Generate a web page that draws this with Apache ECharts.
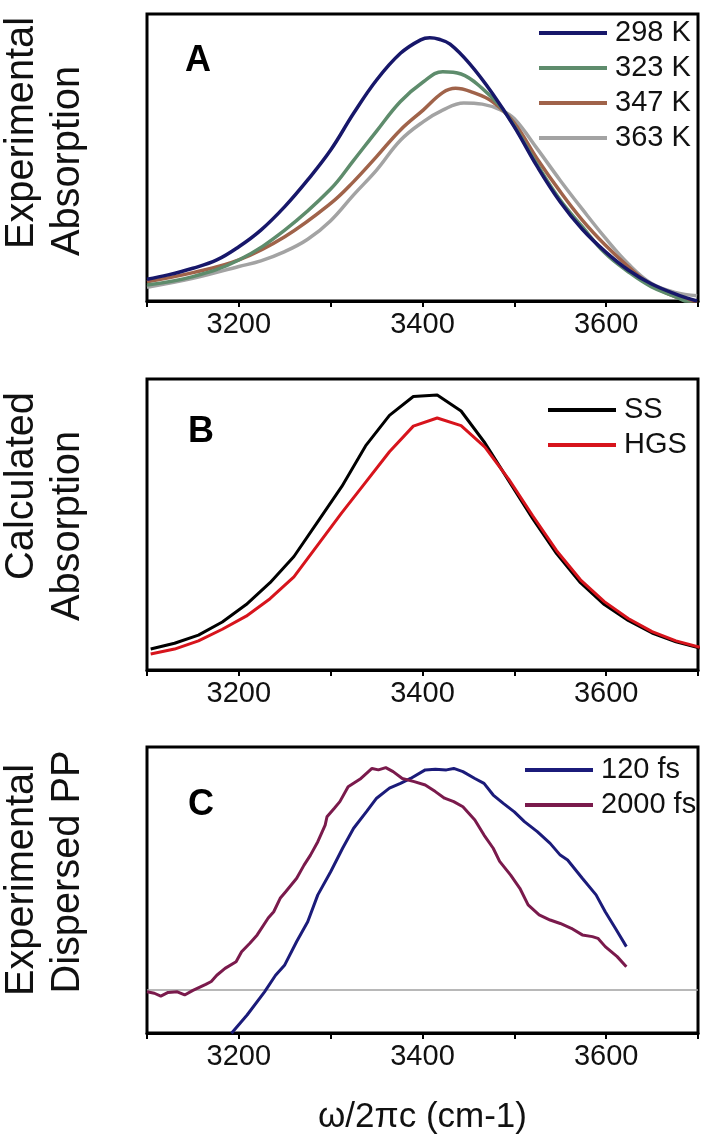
<!DOCTYPE html>
<html>
<head>
<meta charset="utf-8">
<script src="https://cdn.jsdelivr.net/npm/echarts@6/dist/echarts.min.js"></script>
<style>
html,body{margin:0;padding:0;background:#fff;}
#chart{width:701px;height:1140px;}
</style>
</head>
<body>
<div id="chart"></div>
<script>
// ---- Panel A: experimental absorption ----
const xA = [3100,3123,3150,3176,3200,3224,3250,3275,3300,3325,3350,3376,3398,3408,3418,3430,3451,3476,3500,3525,3550,3574,3599,3624,3649,3675,3699];
const a298 = [0.076,0.091,0.114,0.143,0.189,0.247,0.329,0.422,0.526,0.654,0.770,0.863,0.910,0.917,0.912,0.895,0.828,0.724,0.607,0.468,0.345,0.250,0.172,0.108,0.060,0.025,0.0];
const a323x = [3100,3150,3200,3250,3300,3325,3350,3376,3401,3422,3442,3465,3485,3500,3525,3550,3574,3599,3624,3649,3675,3699];
const a323 = [0.056,0.085,0.143,0.247,0.390,0.490,0.592,0.695,0.764,0.799,0.791,0.741,0.677,0.610,0.475,0.352,0.259,0.166,0.102,0.050,0.015,-0.02];
const a347x = [3100,3150,3200,3250,3300,3325,3350,3376,3401,3422,3436,3453,3476,3500,3525,3550,3574,3599,3624,3649,3675,3699];
const a347 = [0.067,0.099,0.143,0.224,0.340,0.416,0.503,0.596,0.666,0.726,0.741,0.729,0.695,0.620,0.495,0.381,0.282,0.195,0.120,0.056,0.015,-0.008];
const a363x = [3100,3150,3200,3224,3250,3275,3300,3325,3350,3376,3401,3422,3445,3465,3485,3500,3525,3550,3574,3599,3624,3649,3675,3699];
const a363 = [0.048,0.079,0.120,0.140,0.172,0.215,0.280,0.370,0.456,0.560,0.625,0.665,0.690,0.686,0.666,0.635,0.530,0.420,0.320,0.220,0.130,0.062,0.030,0.018];

// ---- Panel B: calculated absorption ----
const xB = [3104,3130,3156,3182,3208,3234,3260,3286,3312,3338,3364,3390,3416,3442,3468,3494,3520,3546,3572,3598,3624,3650,3676,3702];
const bSS  = [0.072,0.092,0.120,0.165,0.225,0.300,0.390,0.510,0.630,0.770,0.875,0.940,0.945,0.890,0.780,0.650,0.520,0.400,0.300,0.225,0.170,0.127,0.097,0.075];
const bHGS = [0.055,0.072,0.100,0.140,0.185,0.245,0.320,0.430,0.540,0.645,0.750,0.838,0.866,0.840,0.766,0.655,0.530,0.410,0.310,0.235,0.177,0.132,0.100,0.078];

// ---- Panel C: experimental dispersed pump-probe ----
const xC120 = [3192,3209,3228,3240,3250,3263,3275,3286,3300,3313,3325,3339,3350,3364,3376,3387,3403,3414,3426,3434,3444,3457,3467,3477,3488,3500,3511,3525,3539,3550,3558,3574,3589,3599,3610,3622];
const c120  = [-0.151,-0.087,-0.006,0.052,0.088,0.170,0.239,0.333,0.414,0.496,0.566,0.624,0.671,0.706,0.723,0.740,0.770,0.772,0.770,0.775,0.764,0.740,0.723,0.682,0.653,0.623,0.589,0.554,0.513,0.472,0.455,0.391,0.333,0.274,0.216,0.152];
const xC2000 = [3100,3108,3115,3123,3133,3141,3150,3164,3170,3176,3185,3197,3203,3212,3220,3232,3238,3245,3251,3263,3271,3278,3286,3294,3296,3304,3310,3319,3333,3345,3352,3360,3368,3378,3391,3403,3414,3424,3434,3444,3457,3467,3477,3484,3496,3506,3515,3527,3539,3550,3562,3574,3585,3591,3599,3612,3622];
const c2000  = [-0.006,-0.011,-0.021,-0.008,-0.006,-0.017,-0.001,0.020,0.030,0.052,0.076,0.099,0.134,0.164,0.193,0.252,0.274,0.321,0.344,0.391,0.437,0.472,0.519,0.577,0.606,0.636,0.659,0.711,0.740,0.775,0.770,0.778,0.764,0.740,0.729,0.717,0.694,0.671,0.659,0.641,0.595,0.542,0.496,0.450,0.402,0.356,0.298,0.263,0.245,0.233,0.216,0.193,0.187,0.181,0.152,0.117,0.082];

const xTickLabels = [3200, 3400, 3600];
const yTitles = [['Experimental','Absorption'], ['Calculated','Absorption'], ['Experimental','Dispersed PP']];
const panelLetters = ['A','B','C'];

const FONT = 'Liberation Sans, Arial, sans-serif';

function pair(xs, ys){ return xs.map((x,i)=>[x, ys[i]]); }

const grids = [
  {left:147, right:2, top:14, height:287},
  {left:147, right:2, top:379, height:291},
  {left:147, right:2, top:747, height:286}
];

function xAxisFor(i, withName){
  return {
    type:'value', gridIndex:i, min:3100, max:3700, interval:100,
    axisLine:{show:true, onZero:false, lineStyle:{color:'#000', width:3}},
    axisTick:{show:true, inside:false, length:6, lineStyle:{color:'#000', width:2}},
    axisLabel:{show:true, margin:9, fontSize:29, fontFamily:FONT, color:'#111',
      formatter:function(v){ return xTickLabels.indexOf(v) >= 0 ? String(v) : ''; }},
    splitLine:{show:false},
    name: withName ? 'ω/2πc (cm-1)' : '',
    nameLocation:'middle', nameGap:67,
    nameTextStyle:{fontSize:35, fontFamily:FONT, color:'#111'}
  };
}
function yAxisFor(i, min, max){
  return {
    type:'value', gridIndex:i, min:min, max:max,
    axisLine:{show:false}, axisTick:{show:false}, axisLabel:{show:false}, splitLine:{show:false}
  };
}

function line(name, xi, data, color, smooth, width){
  return {
    name:name, type:'line', xAxisIndex:xi, yAxisIndex:xi, data:data,
    showSymbol:false, symbol:'none', smooth:smooth, clip:true,
    lineStyle:{color:color, width:width||3}, itemStyle:{color:color},
    emphasis:{disabled:true}, z:3
  };
}

const legendBase = {
  orient:'vertical', icon:'rect', itemWidth:68, itemHeight:4, itemGap:5,
  selectedMode:false, padding:0,
  textStyle:{fontSize:29, lineHeight:30, fontFamily:FONT, color:'#111', padding:[0,0,0,3]}
};

// rotated y titles (two lines each), centres
const yTitleCentres = [[133,161],[486,526],[880,872]];
const graphics = [];
grids.forEach(function(g, i){
  [22, 68].forEach(function(cx, k){
    graphics.push({
      type:'text', x:cx, y:yTitleCentres[i][k], rotation:Math.PI/2, scaleX:0.97, scaleY:1,
      style:{text:yTitles[i][k], x:0, y:0, font:'41px '+FONT, fill:'#111', textAlign:'center', textVerticalAlign:'middle'}
    });
  });
});
const letterPos = [[198,61],[201,432],[201,805]];
panelLetters.forEach(function(t, i){
  graphics.push({type:'text', style:{text:t, x:letterPos[i][0], y:letterPos[i][1], font:'bold 36px '+FONT, fill:'#000', textAlign:'center', textVerticalAlign:'middle'}});
});

const option = {
  animation:false,
  backgroundColor:'#fff',
  grid: grids.map(g=>Object.assign({show:true, borderColor:'#000', borderWidth:3, backgroundColor:'transparent', containLabel:false}, g)),
  xAxis:[xAxisFor(0,false), xAxisFor(1,false), xAxisFor(2,true)],
  yAxis:[yAxisFor(0,0,1), yAxisFor(1,0,1), yAxisFor(2,-0.15,0.85)],
  legend:[
    Object.assign({}, legendBase, {left:539, top:18, data:['298 K','323 K','347 K','363 K']}),
    Object.assign({}, legendBase, {left:548, top:395, data:['SS','HGS']}),
    Object.assign({}, legendBase, {left:525, top:755, data:['120 fs','2000 fs']})
  ],
  graphic:graphics,
  series:[
    line('363 K', 0, pair(a363x, a363), '#a3a3a3', 0.4, 3.5),
    line('347 K', 0, pair(a347x, a347), '#a0634a', 0.4, 3.5),
    line('323 K', 0, pair(a323x, a323), '#5e8c6c', 0.4, 3.5),
    line('298 K', 0, pair(xA, a298), '#17176a', 0.4, 3.5),
    line('SS', 1, pair(xB, bSS), '#000000', 0, 3),
    line('HGS', 1, pair(xB, bHGS), '#d7141c', 0, 3),
    line('120 fs', 2, pair(xC120, c120), '#1b1b7a', 0, 3),
    line('2000 fs', 2, pair(xC2000, c2000), '#7a1a4c', 0, 3),
    {
      name:'baseline', type:'line', xAxisIndex:2, yAxisIndex:2, data:[[3100,0],[3700,0]],
      showSymbol:false, symbol:'none', lineStyle:{color:'#a0a0a0', width:1.5}, z:2, silent:true
    }
  ]
};

const chart = echarts.init(document.getElementById('chart'), null, {renderer:'canvas'});
chart.setOption(option);
</script>
</body>
</html>
